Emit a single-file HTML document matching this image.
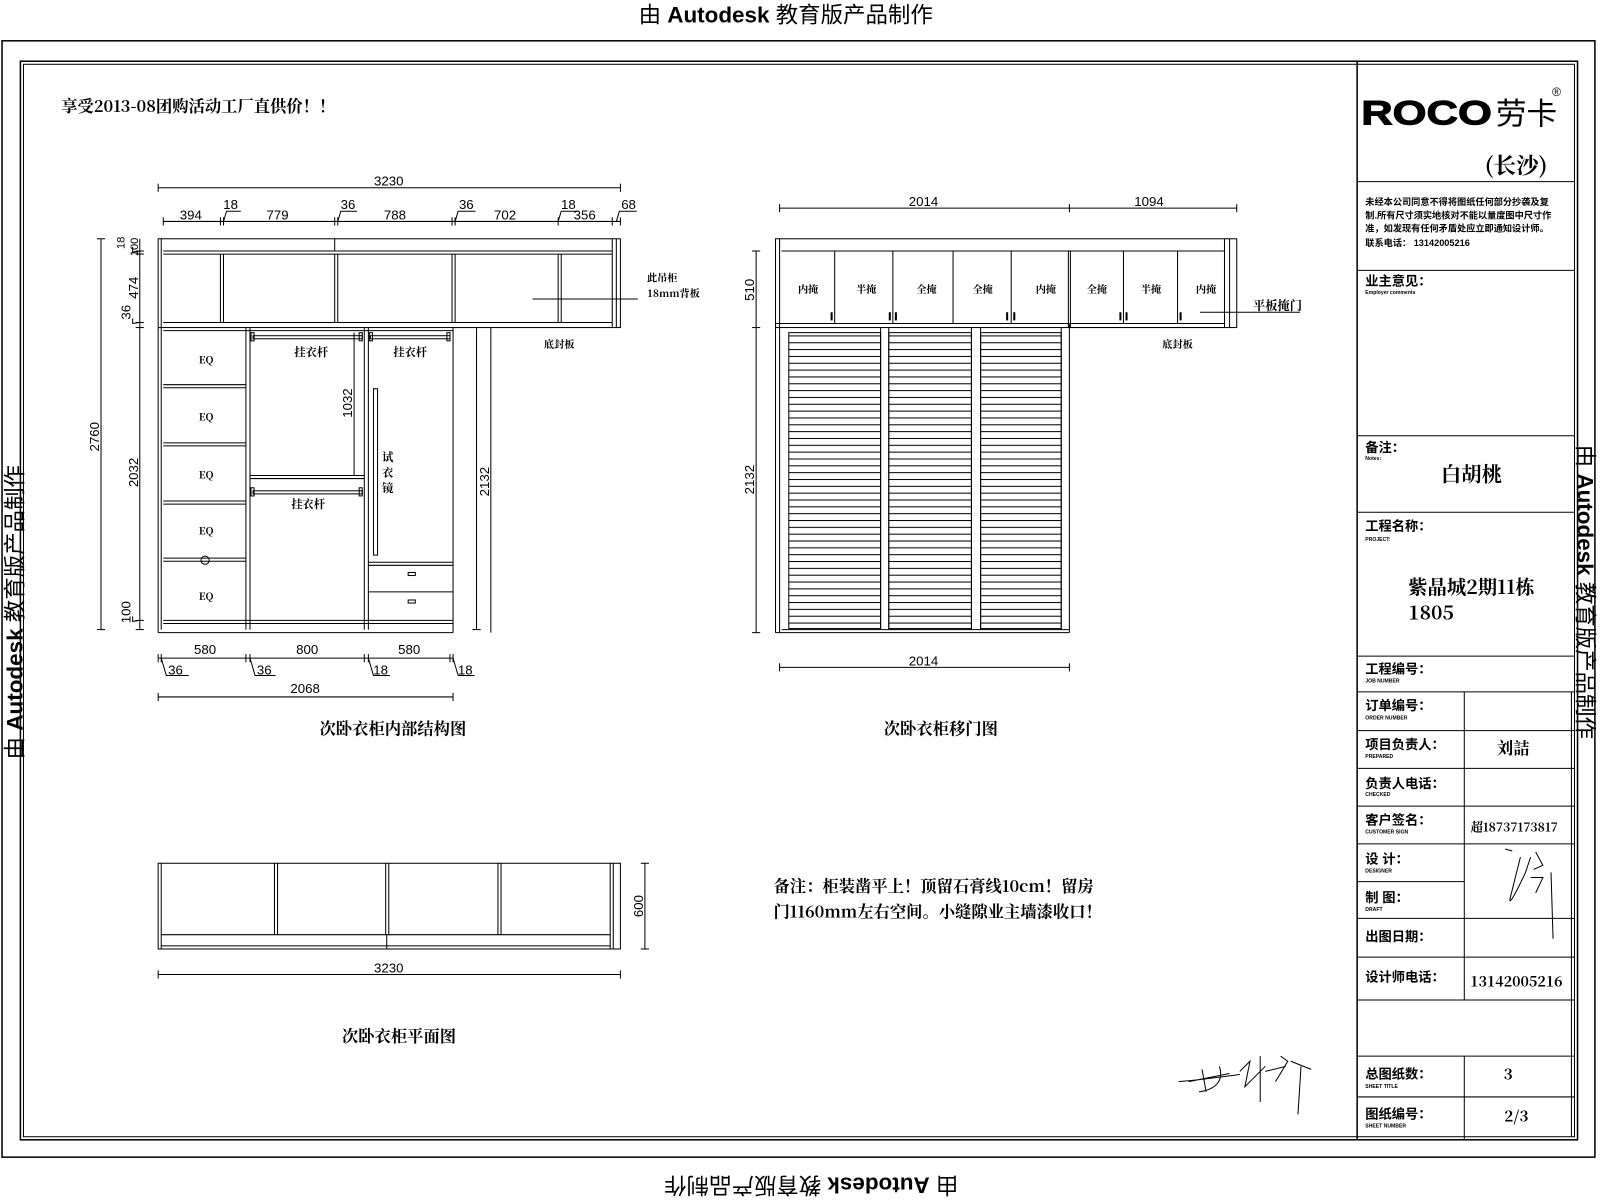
<!DOCTYPE html>
<html><head><meta charset="utf-8"><style>
html,body{margin:0;padding:0;background:#fff}
svg{display:block}
text{font-family:"Liberation Sans","Noto Sans CJK SC",sans-serif;fill:#000}
.b{font-family:"Noto Serif CJK SC","Liberation Serif",serif;font-weight:bold}
.d{font-family:"Liberation Sans",sans-serif;font-size:13px}
</style></head><body>
<svg width="1600" height="1200" viewBox="0 0 1568 1176" xmlns="http://www.w3.org/2000/svg">
<defs>
<pattern id="lv" width="10" height="6.7" patternUnits="userSpaceOnUse" y="322">
<line x1="0" y1="0.5" x2="10" y2="0.5" stroke="#000" stroke-width="1"/>
</pattern>
</defs>
<g fill="none" stroke="#000" stroke-width="1">
<rect x="2" y="40" width="1561" height="1094" stroke-width="1.5"/>
<rect x="20" y="60" width="1526" height="1057" stroke-width="1.5"/>
<rect x="23" y="63" width="1520" height="1051"/>
<line x1="1330" y1="60" x2="1330" y2="1117" stroke-width="1.5"/>
<line x1="1330" y1="178" x2="1543" y2="178"/>
<line x1="1330" y1="265" x2="1543" y2="265"/>
<line x1="1330" y1="427" x2="1543" y2="427"/>
<line x1="1330" y1="502" x2="1543" y2="502"/>
<line x1="1330" y1="643" x2="1543" y2="643"/>
<line x1="1330" y1="678" x2="1543" y2="678"/>
<line x1="1330" y1="716" x2="1543" y2="716"/>
<line x1="1330" y1="753" x2="1543" y2="753"/>
<line x1="1330" y1="790" x2="1543" y2="790"/>
<line x1="1330" y1="827" x2="1543" y2="827"/>
<line x1="1330" y1="864" x2="1435" y2="864"/>
<line x1="1330" y1="900" x2="1543" y2="900"/>
<line x1="1330" y1="938" x2="1543" y2="938"/>
<line x1="1330" y1="980" x2="1543" y2="980"/>
<line x1="1330" y1="1035" x2="1543" y2="1035"/>
<line x1="1330" y1="1075" x2="1543" y2="1075"/>
<line x1="1435" y1="678" x2="1435" y2="980"/>
<line x1="1435" y1="1035" x2="1435" y2="1117"/>
<line x1="1540" y1="678" x2="1540" y2="1114"/>

<rect x="155" y="234" width="453" height="87"/>
<line x1="158" y1="234" x2="158" y2="617"/>
<line x1="160" y1="246" x2="600" y2="246"/>
<line x1="160" y1="249" x2="600" y2="249"/>
<line x1="160" y1="316" x2="600" y2="316"/>
<line x1="600" y1="234" x2="600" y2="321"/>
<line x1="604" y1="234" x2="604" y2="321"/>
<line x1="328" y1="234" x2="328" y2="246"/>
<line x1="216" y1="249" x2="216" y2="316"/><line x1="219" y1="249" x2="219" y2="316"/>
<line x1="328" y1="249" x2="328" y2="316"/><line x1="331" y1="249" x2="331" y2="316"/>
<line x1="443" y1="249" x2="443" y2="316"/><line x1="446" y1="249" x2="446" y2="316"/>
<line x1="547" y1="249" x2="547" y2="316"/><line x1="550" y1="249" x2="550" y2="316"/>
<line x1="155" y1="321" x2="155" y2="620"/>
<line x1="155" y1="620" x2="444" y2="620"/>
<line x1="444" y1="321" x2="444" y2="620"/>
<line x1="160" y1="324" x2="444" y2="324"/>
<line x1="160" y1="608" x2="444" y2="608"/>
<line x1="160" y1="611" x2="444" y2="611"/>
<line x1="241" y1="321" x2="241" y2="617"/><line x1="245" y1="321" x2="245" y2="617"/>
<line x1="357" y1="321" x2="357" y2="617"/><line x1="361" y1="321" x2="361" y2="617"/>
<line x1="160" y1="377" x2="241" y2="377"/><line x1="160" y1="380" x2="241" y2="380"/>
<line x1="160" y1="434" x2="241" y2="434"/><line x1="160" y1="437" x2="241" y2="437"/>
<line x1="160" y1="491" x2="241" y2="491"/><line x1="160" y1="494" x2="241" y2="494"/>
<line x1="160" y1="547" x2="241" y2="547"/><line x1="160" y1="550" x2="241" y2="550"/>
<circle cx="201" cy="549" r="4"/>
<line x1="245" y1="466" x2="357" y2="466"/><line x1="245" y1="469" x2="357" y2="469"/>
<rect x="248" y="329" width="107" height="3"/><rect x="246" y="326" width="3" height="8"/><rect x="352" y="326" width="3" height="8"/>
<rect x="363" y="329" width="78" height="3"/><rect x="362" y="326" width="3" height="8"/><rect x="438" y="326" width="3" height="8"/>
<rect x="248" y="481" width="107" height="3"/><rect x="246" y="478" width="3" height="8"/><rect x="352" y="478" width="3" height="8"/>
<rect x="366" y="381" width="4" height="163"/>
<line x1="361" y1="551" x2="444" y2="551"/><line x1="361" y1="554" x2="444" y2="554"/>
<line x1="361" y1="580" x2="444" y2="580"/>
<rect x="400" y="561" width="7" height="3"/><rect x="400" y="588" width="7" height="3"/>
<line x1="481" y1="321" x2="481" y2="620"/>
<line x1="522" y1="293" x2="625" y2="293"/>
<line x1="155" y1="184" x2="608" y2="184"/>
<line x1="155" y1="180" x2="155" y2="188"/><line x1="608" y1="180" x2="608" y2="188"/>
<line x1="160" y1="217" x2="608" y2="217"/>
<line x1="160" y1="213" x2="160" y2="221"/><line x1="216" y1="213" x2="216" y2="221"/><line x1="219" y1="213" x2="219" y2="221"/>
<line x1="328" y1="213" x2="328" y2="221"/><line x1="331" y1="213" x2="331" y2="221"/>
<line x1="443" y1="213" x2="443" y2="221"/><line x1="446" y1="213" x2="446" y2="221"/>
<line x1="547" y1="213" x2="547" y2="221"/><line x1="600" y1="213" x2="600" y2="221"/><line x1="608" y1="213" x2="608" y2="221"/>
<polyline points="219,217 222,207 236,207"/><polyline points="331,217 334,207 350,207"/>
<polyline points="446,217 449,207 466,207"/><polyline points="547,217 550,207 566,207"/><polyline points="604,217 607,207 624,207"/>
<line x1="99" y1="234" x2="99" y2="617"/><line x1="95" y1="234" x2="103" y2="234"/><line x1="95" y1="617" x2="103" y2="617"/>
<line x1="137" y1="234" x2="137" y2="617"/>
<line x1="133" y1="246" x2="141" y2="246"/><line x1="133" y1="249" x2="141" y2="249"/><line x1="133" y1="316" x2="141" y2="316"/><line x1="133" y1="321" x2="141" y2="321"/><line x1="133" y1="608" x2="141" y2="608"/><line x1="133" y1="617" x2="141" y2="617"/>
<polyline points="137,246 130,247 130,242"/><polyline points="137,316 130,317 130,312"/><polyline points="137,608 130,609 130,604"/>
<line x1="347" y1="326" x2="347" y2="466"/>
<line x1="467" y1="321" x2="467" y2="617"/><line x1="463" y1="617" x2="471" y2="617"/>
<line x1="155" y1="645" x2="444" y2="645"/>
<line x1="155" y1="641" x2="155" y2="649"/><line x1="158" y1="641" x2="158" y2="649"/><line x1="241" y1="641" x2="241" y2="649"/><line x1="245" y1="641" x2="245" y2="649"/><line x1="357" y1="641" x2="357" y2="649"/><line x1="361" y1="641" x2="361" y2="649"/><line x1="441" y1="641" x2="441" y2="649"/><line x1="444" y1="641" x2="444" y2="649"/>
<polyline points="158,645 163,662 185,662"/><polyline points="245,645 250,662 270,662"/><polyline points="361,645 366,662 382,662"/><polyline points="444,645 449,662 465,662"/>
<line x1="155" y1="683" x2="444" y2="683"/><line x1="155" y1="679" x2="155" y2="687"/><line x1="444" y1="679" x2="444" y2="687"/>

<rect x="760" y="234" width="452" height="87"/>
<line x1="764" y1="234" x2="764" y2="620"/>
<line x1="766" y1="246" x2="1200" y2="246"/>
<line x1="1200" y1="234" x2="1200" y2="321"/><line x1="1205" y1="234" x2="1205" y2="321"/>
<line x1="1048" y1="321" x2="1212" y2="321"/>
<line x1="818" y1="246" x2="818" y2="317"/><line x1="875" y1="246" x2="875" y2="317"/><line x1="934" y1="246" x2="934" y2="317"/><line x1="991" y1="246" x2="991" y2="317"/><line x1="1047" y1="246" x2="1047" y2="321"/><line x1="1049" y1="246" x2="1049" y2="321"/><line x1="1101" y1="246" x2="1101" y2="317"/><line x1="1154" y1="246" x2="1154" y2="317"/>
<line x1="1049" y1="317" x2="1200" y2="317"/>
<line x1="760" y1="317" x2="1048" y2="317"/>
<line x1="760" y1="321" x2="760" y2="620"/>
<line x1="760" y1="620" x2="1048" y2="620"/>
<line x1="766" y1="617" x2="1048" y2="617"/>
<line x1="1048" y1="317" x2="1048" y2="620"/>
<rect x="773" y="326" width="90" height="290" fill="url(#lv)"/>
<rect x="871" y="326" width="81" height="290" fill="url(#lv)"/>
<rect x="961" y="326" width="79" height="290" fill="url(#lv)"/>
<line x1="863" y1="321" x2="863" y2="617"/><line x1="871" y1="321" x2="871" y2="617"/>
<line x1="952" y1="321" x2="952" y2="617"/><line x1="961" y1="321" x2="961" y2="617"/>
<line x1="1040" y1="321" x2="1040" y2="617"/>
<line x1="815" y1="306" x2="815" y2="314" stroke-width="2"/><line x1="872" y1="306" x2="872" y2="314" stroke-width="2"/><line x1="878" y1="306" x2="878" y2="314" stroke-width="2"/><line x1="987" y1="306" x2="987" y2="314" stroke-width="2"/><line x1="994" y1="306" x2="994" y2="314" stroke-width="2"/><line x1="1098" y1="306" x2="1098" y2="314" stroke-width="2"/><line x1="1104" y1="306" x2="1104" y2="314" stroke-width="2"/><line x1="1157" y1="306" x2="1157" y2="314" stroke-width="2"/>
<line x1="1176" y1="306" x2="1274" y2="306"/>
<line x1="764" y1="204" x2="1212" y2="204"/><line x1="764" y1="200" x2="764" y2="208"/><line x1="1048" y1="200" x2="1048" y2="208"/><line x1="1212" y1="200" x2="1212" y2="208"/>
<line x1="741" y1="246" x2="741" y2="620"/><line x1="737" y1="246" x2="745" y2="246"/><line x1="737" y1="321" x2="745" y2="321"/><line x1="737" y1="620" x2="745" y2="620"/>
<line x1="764" y1="654" x2="1048" y2="654"/><line x1="764" y1="650" x2="764" y2="658"/><line x1="1048" y1="650" x2="1048" y2="658"/>

<rect x="155" y="846" width="453" height="84"/>
<line x1="158" y1="846" x2="158" y2="930"/>
<line x1="598" y1="846" x2="598" y2="930"/><line x1="601" y1="846" x2="601" y2="930"/>
<line x1="158" y1="916" x2="598" y2="916"/>
<line x1="158" y1="927" x2="598" y2="927"/>
<line x1="269" y1="846" x2="269" y2="916"/><line x1="272" y1="846" x2="272" y2="916"/>
<line x1="378" y1="846" x2="378" y2="916"/><line x1="381" y1="846" x2="381" y2="916"/>
<line x1="379" y1="916" x2="379" y2="930"/>
<line x1="488" y1="846" x2="488" y2="916"/><line x1="491" y1="846" x2="491" y2="916"/>
<line x1="632" y1="846" x2="632" y2="930"/><line x1="628" y1="846" x2="636" y2="846"/><line x1="628" y1="930" x2="636" y2="930"/>
<line x1="155" y1="955" x2="608" y2="955"/><line x1="155" y1="951" x2="155" y2="959"/><line x1="608" y1="951" x2="608" y2="959"/>

<path d="M1155,1060 C1180,1058 1200,1055 1215,1053 M1178,1048 L1182,1070 M1165,1060 L1205,1052 M1195,1045 C1200,1060 1190,1068 1175,1070 M1215,1050 L1225,1040 L1220,1065 L1240,1045 M1235,1035 L1235,1080 M1240,1050 L1260,1045 M1255,1035 L1262,1040 L1250,1060 M1265,1040 L1285,1048 M1275,1045 L1272,1092"/>
<path d="M1490,840 L1480,880 C1478,890 1488,870 1495,855 L1500,840 M1505,835 L1512,848 L1503,852 M1500,860 L1512,860 L1505,875 M1520,855 L1522,920 M1475,832 L1482,834"/>
</g>

<text x="770" y="22" font-size="22" text-anchor="middle">由 <tspan font-weight="bold">Autodesk</tspan> 教育版产品制作</text>
<text transform="translate(795,1162) rotate(180)" font-size="22" text-anchor="middle" dy="8">由 <tspan font-weight="bold">Autodesk</tspan> 教育版产品制作</text>
<text transform="translate(22,600) rotate(-90)" font-size="22" text-anchor="middle">由 <tspan font-weight="bold">Autodesk</tspan> 教育版产品制作</text>
<text transform="translate(1546,580) rotate(90)" font-size="22" text-anchor="middle">由 <tspan font-weight="bold">Autodesk</tspan> 教育版产品制作</text>

<text x="60" y="110" font-size="16" class="b">享受2013-08团购活动工厂直供价！！</text>

<text x="381" y="182" class="d" text-anchor="middle">3230</text>
<text x="187" y="215" class="d" text-anchor="middle">394</text>
<text x="226" y="205" class="d" text-anchor="middle">18</text>
<text x="272" y="215" class="d" text-anchor="middle">779</text>
<text x="341" y="205" class="d" text-anchor="middle">36</text>
<text x="387" y="215" class="d" text-anchor="middle">788</text>
<text x="457" y="205" class="d" text-anchor="middle">36</text>
<text x="495" y="215" class="d" text-anchor="middle">702</text>
<text x="557" y="205" class="d" text-anchor="middle">18</text>
<text x="573" y="215" class="d" text-anchor="middle">356</text>
<text x="616" y="205" class="d" text-anchor="middle">68</text>
<text transform="translate(97,428) rotate(-90)" class="d" text-anchor="middle">2760</text>
<text transform="translate(135,463) rotate(-90)" class="d" text-anchor="middle">2032</text>
<text transform="translate(122,238) rotate(-90)" font-size="11" text-anchor="middle">18</text>
<text transform="translate(135,242) rotate(-90)" font-size="11" text-anchor="middle">100</text>
<text transform="translate(135,282) rotate(-90)" class="d" text-anchor="middle">474</text>
<text transform="translate(128,306) rotate(-90)" class="d" text-anchor="middle">36</text>
<text transform="translate(128,600) rotate(-90)" class="d" text-anchor="middle">100</text>
<text transform="translate(345,395) rotate(-90)" class="d" text-anchor="middle">1032</text>
<text transform="translate(479,472) rotate(-90)" class="d" text-anchor="middle">2132</text>
<text x="202" y="356" font-size="10" class="b" text-anchor="middle">EQ</text>
<text x="202" y="412" font-size="10" class="b" text-anchor="middle">EQ</text>
<text x="202" y="469" font-size="10" class="b" text-anchor="middle">EQ</text>
<text x="202" y="524" font-size="10" class="b" text-anchor="middle">EQ</text>
<text x="202" y="588" font-size="10" class="b" text-anchor="middle">EQ</text>
<text x="305" y="349" font-size="11" class="b" text-anchor="middle">挂衣杆</text>
<text x="402" y="349" font-size="11" class="b" text-anchor="middle">挂衣杆</text>
<text x="302" y="498" font-size="11" class="b" text-anchor="middle">挂衣杆</text>
<text x="380" y="452" font-size="11" class="b" text-anchor="middle">试</text>
<text x="380" y="467" font-size="11" class="b" text-anchor="middle">衣</text>
<text x="380" y="482" font-size="11" class="b" text-anchor="middle">镜</text>
<text x="634" y="276" font-size="10" class="b">此吊柜</text>
<text x="634" y="291" font-size="10" class="b">18mm背板</text>
<text x="548" y="341" font-size="10" class="b" text-anchor="middle">底封板</text>
<text x="201" y="641" class="d" text-anchor="middle">580</text>
<text x="301" y="641" class="d" text-anchor="middle">800</text>
<text x="401" y="641" class="d" text-anchor="middle">580</text>
<text x="172" y="661" class="d" text-anchor="middle">36</text>
<text x="259" y="661" class="d" text-anchor="middle">36</text>
<text x="373" y="661" class="d" text-anchor="middle">18</text>
<text x="456" y="661" class="d" text-anchor="middle">18</text>
<text x="299" y="679" class="d" text-anchor="middle">2068</text>
<text x="385" y="720" font-size="16" class="b" text-anchor="middle">次卧衣柜内部结构图</text>

<text x="905" y="202" class="d" text-anchor="middle">2014</text>
<text x="1126" y="202" class="d" text-anchor="middle">1094</text>
<text x="905" y="652" class="d" text-anchor="middle">2014</text>
<text transform="translate(739,284) rotate(-90)" class="d" text-anchor="middle">510</text>
<text transform="translate(739,470) rotate(-90)" class="d" text-anchor="middle">2132</text>
<g font-size="10" class="b" text-anchor="middle">
<text x="792" y="287" class="b">内掩</text><text x="849" y="287" class="b">半掩</text><text x="908" y="287" class="b">全掩</text><text x="963" y="287" class="b">全掩</text><text x="1025" y="287" class="b">内掩</text><text x="1075" y="287" class="b">全掩</text><text x="1128" y="287" class="b">半掩</text><text x="1182" y="287" class="b">内掩</text>
<text x="1154" y="341" class="b">底封板</text>
</g>
<text x="1228" y="304" font-size="12" class="b">平板掩门</text>
<text x="922" y="720" font-size="16" class="b" text-anchor="middle">次卧衣柜移门图</text>

<text transform="translate(630,888) rotate(-90)" class="d" text-anchor="middle">600</text>
<text x="381" y="953" class="d" text-anchor="middle">3230</text>
<text x="391" y="1021" font-size="16" class="b" text-anchor="middle">次卧衣柜平面图</text>
<text x="758" y="874" font-size="16" class="b">备注：柜装凿平上！顶留石膏线10cm！留房</text>
<text x="758" y="899" font-size="16" class="b">门1160mm左右空间。小缝隙业主墙漆收口！</text>

<text x="1334" y="122" font-size="34" fill="none" stroke="#000" stroke-width="1" font-weight="bold" textLength="128" lengthAdjust="spacingAndGlyphs">ROCO</text>
<text x="1466" y="122" font-size="30">劳卡</text>
<text x="1521" y="94" font-size="12">®</text>
<text x="1455" y="170" font-size="22" class="b">(长沙)</text>
<g class="b" font-size="9"><text x="1338" y="201">未经本公司同意不得将图纸任何部分抄袭及复</text>
<text x="1338" y="214">制.所有尺寸须实地核对不能以量度图中尺寸作</text>
<text x="1338" y="227">准，如发现有任何矛盾处应立即通知设计师。</text>
<text x="1338" y="241">联系电话： 13142005216</text></g>
<g class="b" font-size="13">
<text x="1338" y="280">业主意见：</text>
<text x="1338" y="443">备注：</text>
<text x="1338" y="520">工程名称：</text>
<text x="1338" y="660">工程编号：</text>
<text x="1338" y="696">订单编号：</text>
<text x="1338" y="734">项目负责人：</text>
<text x="1338" y="772">负责人电话：</text>
<text x="1338" y="808">客户签名：</text>
<text x="1338" y="846">设  计：</text>
<text x="1338" y="884">制  图：</text>
<text x="1338" y="922">出图日期：</text>
<text x="1338" y="962">设计师电话：</text>
<text x="1338" y="1057">总图纸数：</text>
<text x="1338" y="1096">图纸编号：</text>
</g>
<g font-size="5" font-weight="bold">
<text x="1338" y="288">Employer comments</text><text x="1338" y="451">Notes:</text><text x="1338" y="530">PROJECT:</text>
<text x="1338" y="669">JOB NUMBER</text><text x="1338" y="705">ORDER NUMBER</text><text x="1338" y="743">PREPARED</text>
<text x="1338" y="780">CHECKED</text><text x="1338" y="817">CUSTOMER SIGN</text><text x="1338" y="855">DESIGNER</text>
<text x="1338" y="893">DRAFT</text><text x="1338" y="1066">SHEET TITLE</text><text x="1338" y="1105">SHEET NUMBER</text>
</g>
<text x="1442" y="472" font-size="20" class="b" text-anchor="middle">白胡桃</text>
<text x="1380" y="582" font-size="19" class="b">紫晶城2期11栋</text>
<text x="1380" y="607" font-size="19" class="b">1805</text>
<text x="1483" y="739" font-size="16" class="b" text-anchor="middle">刘詰</text>
<text x="1484" y="815" font-size="12" class="b" text-anchor="middle">超18737173817</text>
<text x="1486" y="967" font-size="14" class="b" text-anchor="middle">13142005216</text>
<text x="1478" y="1058" font-size="15" class="b" text-anchor="middle">3</text>
<text x="1486" y="1099" font-size="15" class="b" text-anchor="middle">2/3</text>
</svg>
</body></html>
